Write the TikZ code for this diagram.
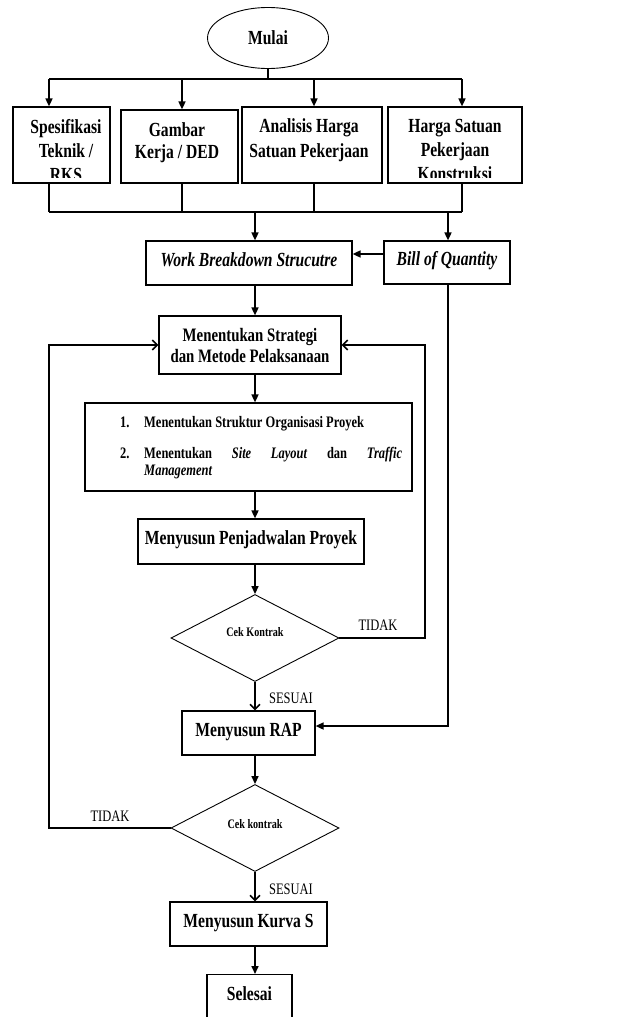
\documentclass[tikz,border=0pt]{standalone}
\usepackage{fontspec}
\setmainfont{Liberation Serif}[FakeStretch=0.78]
\usetikzlibrary{arrows.meta,shapes.geometric}

\begin{document}
\begin{tikzpicture}[x=1pt,y=-1pt,
  box/.style={draw, line width=1.2pt, inner sep=0pt, align=center,
    font=\fontsize{20}{23}\selectfont\bfseries},
  one/.style={box, text height=13pt, text depth=7pt},
  txt/.style={inner sep=0pt, align=center},
  dec/.style={draw, diamond, line width=0.9pt, inner sep=0pt,
    minimum width=168pt, minimum height=87pt},
  dtxt/.style={inner sep=0pt, font=\fontsize{13}{15}\selectfont\bfseries},
  lbl/.style={inner sep=0pt, font=\fontsize{16}{18}\selectfont},
  conn/.style={line width=1.6pt},
  arr/.style={conn, -{Triangle[width=7pt,length=8pt]}},
  barb/.style={conn, -{Straight Barb[width=10pt,length=5pt]}},
]
\clip (0,0) rectangle (633,1017);
\fill[white] (0,0) rectangle (633,1017);

% start
\node[ellipse, draw, line width=0.9pt, minimum width=121pt, minimum height=61pt,
  inner sep=0pt, font=\fontsize{20}{23}\selectfont\bfseries] (mulai) at (268,38) {Mulai};

% input documents (text of the last line is cut by the inner text frame)
\node[box, minimum width=97pt,  minimum height=76pt] (spek) at (61.5,145) {};
\node[box, minimum width=117pt, minimum height=73pt] (ded)  at (179.5,146.5) {};
\node[box, minimum width=140pt, minimum height=76pt] (ahsp) at (312,145) {};
\node[box, minimum width=134pt, minimum height=76pt] (hsp)  at (455,145) {};
\begin{scope}
  \clip (13,107) rectangle (522,177);
  \node[txt, anchor=base, font=\fontsize{20}{24}\selectfont\bfseries]
    (spekt) at (66,181) {Spesifikasi\\Teknik /\\RKS};
  \node[txt, anchor=base, font=\fontsize{20}{22}\selectfont\bfseries]
    (dedt)  at (177,158) {Gambar\\Kerja / DED};
  \node[txt, anchor=base, font=\fontsize{20}{25}\selectfont\bfseries]
    (ahspt) at (309,157) {Analisis Harga\\Satuan Pekerjaan};
  \node[txt, anchor=base, font=\fontsize{20}{24}\selectfont\bfseries]
    (hspt)  at (455,180) {Harga Satuan\\Pekerjaan\\Konstruksi};
\end{scope}

% planning boxes
\node[one, minimum width=206pt, minimum height=44pt] (wbs) at (249,263) {\textit{Work Breakdown Strucutre}};
\node[one, minimum width=126pt, minimum height=43pt] (boq) at (447,262.5) {\textit{Bill of Quantity}};
\node[box, minimum width=182pt, minimum height=58pt, font=\fontsize{19}{21}\selectfont\bfseries]
  (strat) at (250,345) {Menentukan Strategi\\dan Metode Pelaksanaan};
\node[box, minimum width=327pt, minimum height=88pt] (list) at (248.5,447) {};
\node[inner sep=0pt, text width=282pt, align=justify, anchor=base west,
  font=\fontsize{16}{17}\selectfont\bfseries] (listt) at (120,427)
  {\hyphenpenalty=10000\exhyphenpenalty=10000\tolerance=10000\hbadness=10000
   \noindent\makebox[24pt][l]{1.}Menentukan Struktur Organisasi Proyek\par
   \vspace{14pt}
   \noindent\hangindent=24pt\hangafter=1\makebox[24pt][l]{2.}Menentukan
   \textit{Site Layout} dan \textit{Traffic}\linebreak \textit{Management}\par};
\node[one, minimum width=226pt, minimum height=45pt] (jadwal) at (251,541.5) {Menyusun Penjadwalan Proyek};
\node[dec] (cek1) at (255,638) {};
\node[dtxt] (cek1t) at ([yshift=6pt]cek1.center) {Cek Kontrak};
\node[one, minimum width=133pt, minimum height=44pt] (rap) at (248.5,733) {Menyusun RAP};
\node[dec] (cek2) at (255,828) {};
\node[dtxt] (cek2t) at ([yshift=4pt]cek2.center) {Cek kontrak};
\node[one, minimum width=157pt, minimum height=44pt] (kurva) at (248.5,924) {Menyusun Kurva S};
\node[box, minimum width=85pt, text height=26pt, text depth=30pt, anchor=north]
  (selesai) at (249.5,974) {Selesai};

% labels
\node[lbl, anchor=base] (tidak1) at (378,630) {TIDAK};
\node[lbl, anchor=base] (tidak2) at (110,821) {TIDAK};
\node[lbl, anchor=base] (sesuai1) at (291,703) {SESUAI};
\node[lbl, anchor=base] (sesuai2) at (291,894) {SESUAI};

% bus points
\coordinate (top) at (268,79);
\coordinate (t1) at (49,79);
\coordinate (t2) at (182,79);
\coordinate (t3) at (314,79);
\coordinate (t4) at (462,79);
\coordinate (u1) at (49,212);
\coordinate (u2) at (182,212);
\coordinate (u3) at (314,212);
\coordinate (u4) at (462,212);
\coordinate (u5) at (255,212);
\coordinate (u6) at (448,212);
\coordinate (ax) at (255,0);
\coordinate (q)  at (384,254);
\coordinate (rl) at (425,345);
\coordinate (ll) at (49,345);
\coordinate (qb) at (448,726);

% distribution from start
\draw[conn] (mulai.south) -- (top);
\draw[conn] (t1) -- (t4);
\draw[arr] (t1) -- (t1 |- spek.north);
\draw[arr] (t2) -- (t2 |- ded.north);
\draw[arr] (t3) -- (t3 |- ahsp.north);
\draw[arr] (t4) -- (t4 |- hsp.north);

% collection bus
\draw[conn] (u1 |- spek.south) -- (u1);
\draw[conn] (u2 |- ded.south) -- (u2);
\draw[conn] (u3 |- ahsp.south) -- (u3);
\draw[conn] (u4 |- hsp.south) -- (u4);
\draw[conn] (u1) -- (u4);
\draw[arr] (u5) -- (u5 |- wbs.north);
\draw[arr] (u6) -- (u6 |- boq.north);
\draw[arr] (q) -- (q -| wbs.east);

% main flow
\draw[arr] (wbs.south -| ax) -- (strat.north -| ax);
\draw[arr] (strat.south -| ax) -- (list.north -| ax);
\draw[arr] (list.south -| ax) -- (jadwal.north -| ax);
\draw[arr] (jadwal.south -| ax) -- (cek1.north);
\draw[barb] (cek1.south) -- (rap.north -| ax);
\draw[arr] (rap.south -| ax) -- (cek2.north);
\draw[barb] (cek2.south) -- (kurva.north -| ax);
\draw[arr] (kurva.south -| ax) -- (selesai.north -| ax);

% feedback loops
\draw[barb] (cek1.east) -| (rl) -- (strat.east);
\draw[barb] (cek2.west) -| (ll) -- (strat.west);
\draw[arr] (qb |- boq.south) -- (qb) -- (qb -| rap.east);
\end{tikzpicture}
\end{document}
